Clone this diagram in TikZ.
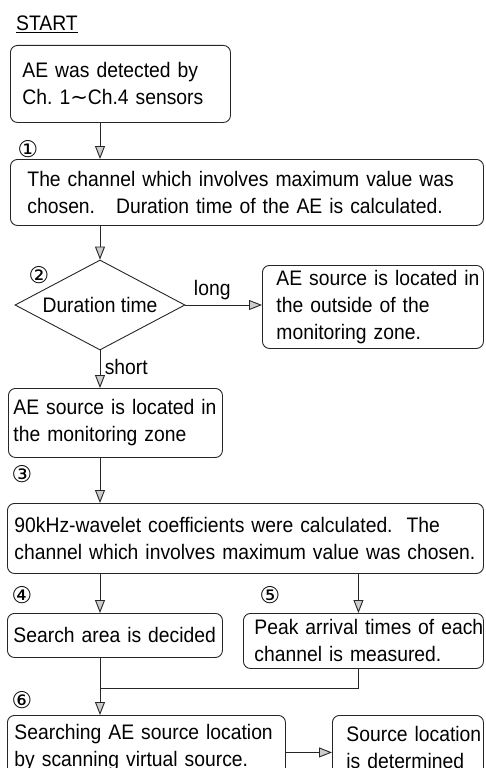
\documentclass[tikz,border=0pt]{standalone}
\usepackage{fontspec}
\setmainfont[FakeStretch=0.92]{Liberation Sans}
\newfontfamily\symfont{DejaVu Sans}
\usetikzlibrary{arrows.meta,shapes.geometric}
\tikzset{
  stepbox/.style={draw=black!85, line width=0.9pt, rounded corners=7pt, anchor=north west, align=left, inner ysep=0pt},
  flow/.style={draw=black!85, line width=0.9pt, -{Triangle[length=13pt,width=10pt,fill=gray!40]}},
  link/.style={draw=black!85, line width=0.9pt},
  stepno/.style={font=\symfont\fontsize{23}{23}\selectfont, inner sep=0pt},
}
\begin{document}
\begin{tikzpicture}[x=1pt,y=-1pt,font=\fontsize{21}{27}\selectfont]
  \useasboundingbox (0,0) rectangle (485,768);
  \clip (0,0) rectangle (485,768);
  % start
  \node[inner sep=0pt] (start) at (47,24) {\underline{START}};
  % boxes
  \node[stepbox, inner xsep=12pt, minimum width=220pt, minimum height=77pt, text width=196pt] (detect) at (10,45)
    {\mbox{AE was detected by}\\\mbox{Ch.~1{\symfont ∼}Ch.4 sensors}};
  \node[stepbox, inner xsep=17pt, minimum width=473pt, minimum height=66pt, text width=439pt] (choose) at (10,159)
    {\mbox{The channel which involves maximum value was}\\\mbox{chosen.\ \ \ Duration time of the AE is calculated.}};
  \node[draw=black!85, line width=0.9pt, diamond, aspect=1.9, inner sep=0pt, minimum width=170pt, minimum height=90pt] (dur) at (100,305)
    {Duration time};
  \node[stepbox, inner xsep=14pt, minimum width=221pt, minimum height=83pt, text width=193pt] (outside) at (262,265)
    {\mbox{AE source is located in}\\\mbox{the outside of the}\\\mbox{monitoring zone.}};
  \node[stepbox, inner xsep=5pt, minimum width=214pt, minimum height=69pt, text width=204pt] (inside) at (8,388)
    {\mbox{AE source is located in}\\\mbox{the monitoring zone}};
  \node[stepbox, inner xsep=7pt, minimum width=476pt, minimum height=70pt, text width=462pt] (wavelet) at (7,503)
    {\mbox{90kHz-wavelet coefficients were calculated.\ \ The}\\\mbox{channel which involves maximum value was chosen.}};
  \node[stepbox, inner xsep=6pt, minimum width=215pt, minimum height=44pt, text width=203pt] (area) at (7,613)
    {\mbox{Search area is decided}};
  \node[stepbox, inner xsep=11pt, minimum width=240pt, minimum height=55pt, text width=218pt] (peak) at (243,613)
    {\mbox{Peak arrival times of each}\\\mbox{channel is measured.}};
  \node[stepbox, inner xsep=7pt, minimum width=278pt, minimum height=64pt, text width=264pt] (search) at (7,715)
    {\mbox{Searching AE source location}\\\mbox{by scanning virtual source.}};
  \node[stepbox, inner xsep=14pt, minimum width=151pt, minimum height=64pt, text width=123pt] (result) at (332,715)
    {\mbox{Source location}\\\mbox{is determined}};
  % step numbers
  \node[stepno] (n1) at (28,149) {①};
  \node[stepno] (n2) at (39,275) {②};
  \node[stepno] (n3) at (22,474) {③};
  \node[stepno] (n4) at (22,595) {④};
  \node[stepno] (n5) at (270,595) {⑤};
  \node[stepno] (n6) at (22,700) {⑥};
  % connectors
  \draw[flow] (detect.south -| dur) -- (choose.north -| dur);
  \draw[flow] (choose.south -| dur) -- (dur.north);
  \draw[flow] (dur.east) -- (dur.east -| outside.west) node[pos=0.35, above=1pt] {long};
  \draw[flow] (dur.south) -- (inside.north -| dur) node[pos=0.45, right=1pt] {short};
  \draw[flow] (inside.south -| dur) -- (wavelet.north -| dur);
  \draw[flow] (wavelet.south -| dur) -- (area.north -| dur);
  \draw[flow] ([xshift=-5pt]peak.north |- wavelet.south) -- ([xshift=-5pt]peak.north);
  \coordinate (join) at (100,688);
  \draw[link] (area.south -| dur) -- (join);
  \draw[link] ([xshift=-5pt]peak.south) |- (join);
  \draw[flow] (join) -- (search.north -| join);
  \draw[flow] ([yshift=-5pt]search.east) -- ([yshift=-5pt]result.west);
\end{tikzpicture}
\end{document}
